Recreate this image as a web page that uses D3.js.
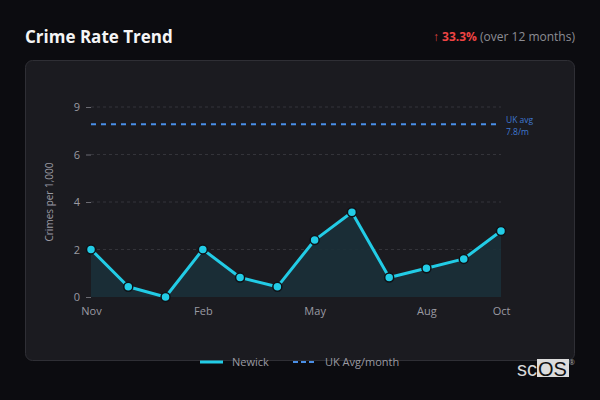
<!DOCTYPE html>
<html><head><meta charset="utf-8">
<script src="https://cdn.jsdelivr.net/npm/d3@7"></script>
<style>
html,body{margin:0;padding:0;background:#0c0c10;}
svg{display:block;font-family:"Open Sans","Noto Sans",sans-serif;}
</style></head><body>
<svg id="c" width="600" height="400"></svg>
<script>
const months = ["Nov","Dec","Jan","Feb","Mar","Apr","May","Jun","Jul","Aug","Sep","Oct"];
const newick = [2.15,0.46,0,2.15,0.88,0.46,2.57,3.83,0.88,1.3,1.72,2.98];
const ukAvg = 7.8;
const xTickLabels = ["Nov","Feb","May","Aug","Oct"];
const yTickLabels = ["0","2","4","6","9"];
const changePct = "33.3%";

const svg = d3.select("#c");
svg.append("rect").attr("width",600).attr("height",400).attr("fill","#0c0c10");

// card
svg.append("rect").attr("x",25.5).attr("y",60.5).attr("width",549).attr("height",300)
  .attr("rx",7).attr("fill","#1b1b20").attr("stroke","#2f2f35").attr("stroke-width",1);

// title
svg.append("text").attr("x",25).attr("y",43).attr("fill","#f5f5f5")
  .attr("font-size",17).attr("font-weight",700).text("Crime Rate Trend");
const sub = svg.append("text").attr("x",575).attr("y",41).attr("text-anchor","end").attr("font-size",12);
sub.append("tspan").attr("fill","#d9423f").text("↑ ");
sub.append("tspan").attr("fill","#ef4444").attr("font-weight",700).text(changePct);
sub.append("tspan").attr("fill","#8d8d94").text(" (over 12 months)");

const x = d3.scalePoint().domain(months).range([91,501]);
const yMax = ukAvg*1.1;
const y = d3.scaleLinear().domain([0,yMax]).range([297,107]);
const yTickVals = d3.range(5).map(i=>yMax*i/4);

// grid
const g = svg.append("g");
g.selectAll("line.grid").data(yTickVals.slice(1)).join("line")
  .attr("x1",91).attr("x2",501).attr("y1",d=>y(d)).attr("y2",d=>y(d))
  .attr("stroke","#34343a").attr("stroke-width",1).attr("stroke-dasharray","3,3");

// y axis
const yAxis = svg.append("g").attr("transform","translate(91,0)")
  .call(d3.axisLeft(y).tickValues(yTickVals).tickSize(5).tickPadding(6)
    .tickFormat((d,i)=>yTickLabels[i]));
yAxis.select(".domain").remove();
yAxis.selectAll(".tick line").attr("stroke","#6b6b72");
yAxis.selectAll("text").attr("fill","#9a9aa2").attr("font-size",11).attr("font-family","Open Sans, Noto Sans, sans-serif");

// x axis
const xAxis = svg.append("g").attr("transform","translate(0,297)")
  .call(d3.axisBottom(x).tickValues(xTickLabels).tickSize(0).tickPadding(10));
xAxis.select(".domain").remove();
xAxis.selectAll("text").attr("fill","#9a9aa2").attr("font-size",11).attr("font-family","Open Sans, Noto Sans, sans-serif");

// y label
svg.append("text").attr("transform","translate(53,202) rotate(-90)").attr("text-anchor","middle")
  .attr("fill","#9a9aa2").attr("font-size",10).text("Crimes per 1,000");

// area
const pts = months.map((m,i)=>({m,v:newick[i]}));
svg.append("path").datum(pts)
  .attr("d",d3.area().x(d=>x(d.m)).y0(y(0)).y1(d=>y(d.v)))
  .attr("fill","#1b3038").attr("opacity",0.9);

// uk avg line
svg.append("line").attr("x1",91).attr("x2",497).attr("y1",y(ukAvg)).attr("y2",y(ukAvg))
  .attr("stroke","#4a8fe7").attr("stroke-width",2).attr("stroke-dasharray","5,5");
svg.append("text").attr("x",506).attr("y",122.5).attr("fill","#3f78d0").attr("font-size",8.5).text("UK avg");
svg.append("text").attr("x",506).attr("y",134.5).attr("fill","#3f78d0").attr("font-size",8.5).text(ukAvg+"/m");

// line
svg.append("path").datum(pts)
  .attr("d",d3.line().x(d=>x(d.m)).y(d=>y(d.v)))
  .attr("fill","none").attr("stroke","#22cce6").attr("stroke-width",3).attr("stroke-linejoin","round");
svg.selectAll("circle.pt").data(pts).join("circle")
  .attr("cx",d=>x(d.m)).attr("cy",d=>y(d.v)).attr("r",4.5)
  .attr("fill","#22cce6").attr("stroke","#0f1116").attr("stroke-width",1.5);

// legend
svg.append("line").attr("x1",200).attr("x2",223).attr("y1",362).attr("y2",362)
  .attr("stroke","#22cce6").attr("stroke-width",3);
svg.append("text").attr("x",232).attr("y",366).attr("fill","#9a9aa2").attr("font-size",11).text("Newick");
svg.append("line").attr("x1",293).attr("x2",317).attr("y1",362).attr("y2",362)
  .attr("stroke","#4a8fe7").attr("stroke-width",2).attr("stroke-dasharray","5,3");
svg.append("text").attr("x",325).attr("y",366).attr("fill","#9a9aa2").attr("font-size",11).text("UK Avg/month");

// logo
svg.append("rect").attr("x",537).attr("y",359).attr("width",32).attr("height",18).attr("fill","#dcdcdc");
svg.append("text").attr("x",517).attr("y",376).attr("fill","#d8d8d8").attr("font-size",20)
  .attr("font-family","Liberation Sans, Arial, sans-serif").attr("font-weight",400).text("sc");
svg.append("text").attr("x",538).attr("y",376).attr("fill","#111").attr("font-size",20)
  .attr("font-family","Liberation Sans, Arial, sans-serif").text("OS");
svg.append("text").attr("x",569).attr("y",365).attr("fill","#aaa").attr("font-size",7).text("®");
</script></body></html>
